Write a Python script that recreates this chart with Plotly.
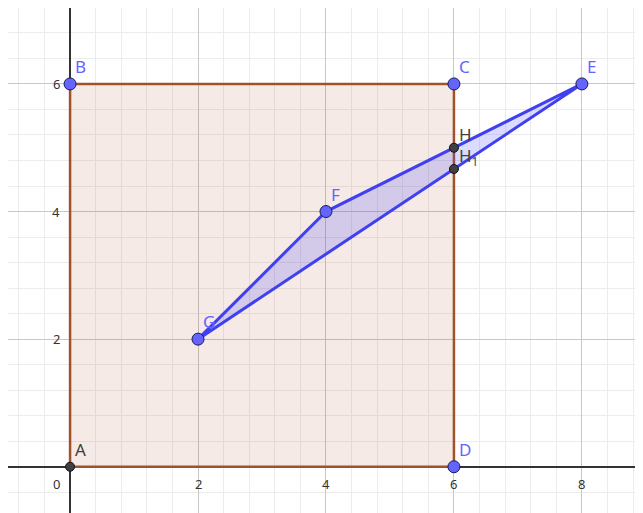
import plotly.graph_objects as go

square_x = [0, 0, 6, 6, 0]
square_y = [0, 6, 6, 0, 0]
tri_x = [2, 4, 8, 2]
tri_y = [2, 4, 6, 2]
blue_names = ['B', 'C', 'D', 'E', 'F', 'G']
blue_x = [0, 6, 6, 8, 4, 2]
blue_y = [6, 6, 0, 6, 4, 2]
dark_names = ['A', 'H', 'H<sub>1</sub>']
dark_x = [0, 6, 6]
dark_y = [0, 5, 14 / 3]
x_ticks = [2, 4, 6, 8]
y_ticks = [2, 4, 6]

fig = go.Figure()
fig.add_trace(go.Scatter(x=square_x, y=square_y, mode='lines', fill='toself',
                         fillcolor='rgba(153,51,0,0.1)', line=dict(color='#a0522d', width=2.5)))
fig.add_trace(go.Scatter(x=tri_x, y=tri_y, mode='lines', fill='toself',
                         fillcolor='rgba(77,77,255,0.2)', line=dict(color='#4040f0', width=3)))
fig.add_trace(go.Scatter(x=blue_x, y=blue_y, mode='markers',
                         marker=dict(color='#6464ff', size=12, line=dict(color='#1a1a5a', width=1))))
fig.add_trace(go.Scatter(x=dark_x, y=dark_y, mode='markers',
                         marker=dict(color='#404040', size=9, line=dict(color='#111', width=1))))

for name, x, y in zip(blue_names, blue_x, blue_y):
    fig.add_annotation(x=x, y=y, text=name, showarrow=False, xanchor='left', yanchor='bottom',
                       xshift=3, yshift=4, font=dict(color='#6464ff', size=17, family='Noto Sans'))
for name, x, y, ys in zip(dark_names, dark_x, dark_y, [4, 0, -2]):
    fig.add_annotation(x=x, y=y, text=name, showarrow=False, xanchor='left', yanchor='bottom',
                       xshift=3, yshift=ys, font=dict(color='#404040', size=17, family='Noto Sans'))

tick_font = dict(size=13, color='#333', family='Noto Sans')
fig.add_annotation(x=0, y=0, text='0', showarrow=False, xanchor='right', yanchor='top',
                   xshift=-8, yshift=-6, font=tick_font)
for t in x_ticks:
    fig.add_annotation(x=t, y=0, text=str(t), showarrow=False, yanchor='top', yshift=-6, font=tick_font)
for t in y_ticks:
    fig.add_annotation(x=0, y=t, text=str(t), showarrow=False, xanchor='right', xshift=-8, font=tick_font)

axis = dict(showgrid=True, gridcolor='#c8c8c8', dtick=2, zeroline=True, zerolinecolor='#333',
            zerolinewidth=1.5, showline=False, ticks='', showticklabels=False,
            minor=dict(dtick=0.4, showgrid=True, gridcolor='#ececec'))
fig.update_xaxes(range=[-0.97, 9.08], **axis)
fig.update_yaxes(range=[-0.85, 7.19], **axis)
fig.update_layout(width=643, height=513, margin=dict(l=0, r=0, t=0, b=0),
                  plot_bgcolor='white', paper_bgcolor='white', showlegend=False)
fig.write_html('out.html')
